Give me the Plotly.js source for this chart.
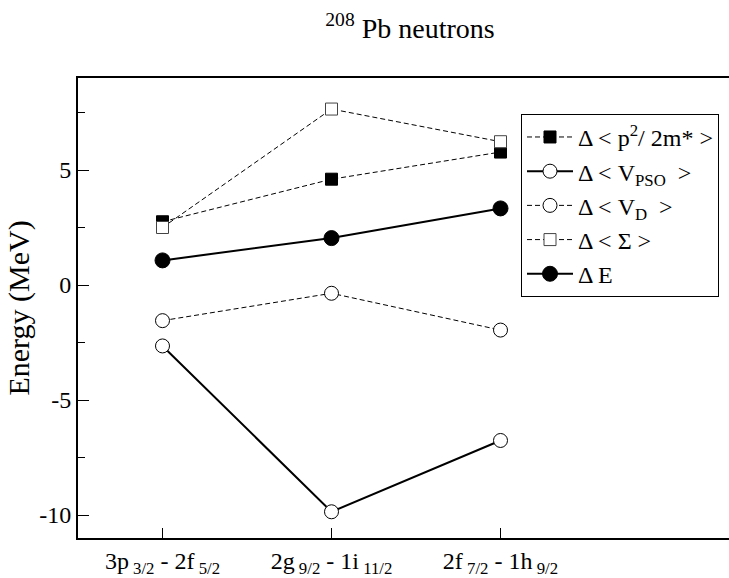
<!DOCTYPE html>
<html>
<head>
<meta charset="utf-8">
<script src="https://cdn.plot.ly/plotly-3.0.1.min.js"></script>
<style>html,body{margin:0;padding:0;background:#fff;overflow:hidden}</style>
</head>
<body>
<div id="chart" style="width:729px;height:578px"></div>
<script>
// Category positions and tick labels
const categories = [1, 2, 3];
const tickLabels = [
  "3p<sub> 3/2</sub> - 2f<sub> 5/2</sub>",
  "2g<sub> 9/2</sub> - 1i<sub> 11/2</sub>",
  "2f<sub> 7/2</sub> - 1h<sub> 9/2</sub>"
];
// Series values (MeV)
const kinetic = [2.75, 4.60, 5.78];   // Δ<p²/2m*>
const vpso    = [-2.65, -9.86, -6.76]; // Δ<V_PSO>
const vd      = [-1.55, -0.36, -1.96]; // Δ<V_D>
const sigma   = [2.50, 7.65, 6.23];    // Δ<Σ>
const deltaE  = [1.07, 2.04, 3.33];    // ΔE
const yTickVals = [-10, -5, 0, 5];
const yTickText = ["-10", "-5", "0", "5"];

const FONT = "Liberation Serif, Times New Roman, serif";
const dashed = {color: "black", width: 1, dash: "5px,3px"};
const solid = {color: "black", width: 2};

const traces = [
  {x: categories, y: kinetic, name: "Δ < p<sup>2</sup>/ 2m* >", mode: "lines+markers",
   line: dashed, marker: {symbol: "square", size: 12, color: "black", line: {color: "black", width: 1}}},
  {x: categories, y: vpso, name: "Δ < V<sub>PSO</sub>  >", mode: "lines+markers",
   line: solid, marker: {symbol: "circle", size: 14, color: "white", line: {color: "black", width: 1}}},
  {x: categories, y: vd, name: "Δ < V<sub>D</sub>  >", mode: "lines+markers",
   line: dashed, marker: {symbol: "circle", size: 14, color: "white", line: {color: "black", width: 1}}},
  {x: categories, y: sigma, name: "Δ < Σ >", mode: "lines+markers",
   line: dashed, marker: {symbol: "square", size: 12, color: "white", line: {color: "#444", width: 1}}},
  {x: categories, y: deltaE, name: "Δ E", mode: "lines+markers",
   line: solid, marker: {symbol: "circle", size: 15, color: "black", line: {color: "black", width: 1}}}
];

const layout = {
  width: 729, height: 578,
  margin: {l: 78, r: 0, t: 78, b: 40, autoexpand: false},
  paper_bgcolor: "white", plot_bgcolor: "white",
  font: {family: FONT, color: "black", size: 24},
  showlegend: true,
  title: {text: "<sup>208</sup> Pb neutrons", font: {family: FONT, size: 28, color: "black"},
          x: 0.5624, xanchor: "center", y: 0.952, yanchor: "middle", xref: "container", yref: "container"},
  xaxis: {
    range: [0.5, 4.352], showgrid: false, zeroline: false,
    showline: true, linecolor: "black", linewidth: 2, mirror: true,
    tickvals: categories, ticktext: tickLabels,
    ticks: "inside", ticklen: 10, tickcolor: "black", tickwidth: 1,
    tickfont: {family: FONT, size: 24, color: "black"}
  },
  yaxis: {
    range: [-11, 9], showgrid: false, zeroline: false,
    showline: true, linecolor: "black", linewidth: 2, mirror: false,
    tickvals: yTickVals, ticktext: yTickText,
    ticks: "inside", ticklen: 11, tickcolor: "black", tickwidth: 1,
    minor: {dtick: 2.5, tick0: 0, ticks: "inside", ticklen: 7, tickcolor: "black", tickwidth: 1, showgrid: false},
    tickfont: {family: FONT, size: 24, color: "black"},
    title: {text: "Energy (MeV)", font: {family: FONT, size: 30, color: "black"}, standoff: 1}
  },
  legend: {
    x: 0.6805, y: 0.922, xanchor: "left", yanchor: "top",
    bgcolor: "white", bordercolor: "black", borderwidth: 1,
    font: {family: FONT, size: 24, color: "black"},
    tracegroupgap: 0, itemwidth: 46
  }
};

Plotly.newPlot("chart", traces, layout, {displayModeBar: false, staticPlot: true});
</script>
</body>
</html>
